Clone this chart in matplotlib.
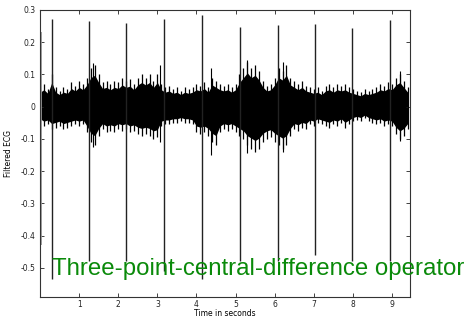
import numpy as np
import matplotlib.pyplot as plt

# R-wave spikes of the filtered ECG (time in s, peak and trough)
beat_t = [0.31, 1.26, 2.21, 3.17, 4.14, 5.11, 6.08, 7.03, 7.98, 8.95]
beat_top = [0.272, 0.266, 0.26, 0.272, 0.284, 0.247, 0.253, 0.256, 0.244, 0.269]
beat_bot = [-0.535, -0.48, -0.48, -0.51, -0.535, -0.48, -0.48, -0.46, -0.48, -0.48]

# noise band envelope, read every 0.1 s from 0.0 to 9.4 s
env_t = np.arange(95) * 0.1
env_hi = [0.06, 0.07, 0.055, 0.10, 0.06, 0.05, 0.06, 0.055, 0.075, 0.065,
          0.08, 0.07, 0.09, 0.12, 0.13, 0.10, 0.075, 0.08, 0.07, 0.08,
          0.075, 0.09, 0.08, 0.085, 0.07, 0.09, 0.10, 0.09, 0.10, 0.08,
          0.10, 0.07, 0.06, 0.065, 0.055, 0.06, 0.05, 0.06, 0.055, 0.06,
          0.07, 0.065, 0.075, 0.06, 0.09, 0.08, 0.07, 0.065, 0.07, 0.06,
          0.07, 0.10, 0.12, 0.14, 0.12, 0.13, 0.11, 0.08, 0.065, 0.07,
          0.09, 0.12, 0.11, 0.13, 0.09, 0.08, 0.07, 0.08, 0.065, 0.06,
          0.055, 0.06, 0.05, 0.065, 0.07, 0.06, 0.07, 0.065, 0.07, 0.06,
          0.055, 0.05, 0.045, 0.055, 0.05, 0.055, 0.06, 0.07, 0.065, 0.075,
          0.07, 0.09, 0.10, 0.08, 0.06]
env_lo = [-0.05, -0.06, -0.055, -0.07, -0.065, -0.06, -0.07, -0.065, -0.06, -0.055,
          -0.06, -0.055, -0.08, -0.11, -0.12, -0.09, -0.07, -0.08, -0.075, -0.08,
          -0.07, -0.075, -0.07, -0.08, -0.075, -0.085, -0.09, -0.085, -0.09, -0.10,
          -0.095, -0.06, -0.055, -0.055, -0.05, -0.05, -0.045, -0.05, -0.05, -0.055,
          -0.08, -0.085, -0.08, -0.09, -0.11, -0.12, -0.08, -0.07, -0.075, -0.07,
          -0.08, -0.09, -0.10, -0.12, -0.13, -0.14, -0.13, -0.11, -0.10, -0.095,
          -0.11, -0.12, -0.13, -0.12, -0.09, -0.07, -0.075, -0.065, -0.07, -0.055,
          -0.06, -0.05, -0.055, -0.06, -0.065, -0.055, -0.06, -0.05, -0.065, -0.055,
          -0.045, -0.04, -0.045, -0.035, -0.045, -0.05, -0.055, -0.05, -0.06, -0.055,
          -0.06, -0.085, -0.10, -0.09, -0.07]

# a few isolated noise spikes sticking out of the band
blip_t = [1.36, 3.06, 4.38, 5.28, 6.22, 9.2]
blip_top = [0.135, 0.13, 0.12, 0.145, 0.14, 0.11]
blip_bot = [-0.125, -0.11, -0.15, -0.145, -0.14, -0.105]

fig = plt.figure(figsize=(4.67, 3.2), dpi=100)
ax = fig.add_axes([0.0857, 0.072, 0.7923, 0.897])

core = 0.75  # solid core of the band relative to the peak envelope
ax.fill_between(env_t, core * np.array(env_lo), core * np.array(env_hi),
                color='black', lw=0)
ax.vlines(env_t, env_lo, env_hi, color='black', lw=0.9)
ax.vlines(blip_t, blip_bot, blip_top, color='black', lw=0.8)
ax.vlines([0.02], [-0.43], [0.23], color='#999999', lw=1.3)
ax.vlines(beat_t, beat_bot, beat_top, color='#222222', lw=1.0)

ax.set_xlim(0, 9.46)
ax.set_ylim(-0.59, 0.3)
ax.set_xticks(range(1, 10))
ax.set_yticks([0.3, 0.2, 0.1, 0, -0.1, -0.2, -0.3, -0.4, -0.5])
ax.set_yticklabels(['0.3', '0.2', '0.1', '0', '-0.1', '-0.2', '-0.3', '-0.4', '-0.5'])
ax.tick_params(direction='in', length=3, width=0.6, labelsize=5.5, pad=3,
               top=True, right=True, colors='#222222')
ax.tick_params(axis='x', pad=2.5)
for s in ax.spines.values():
    s.set_linewidth(0.8)
    s.set_color('#333333')

ax.set_xlabel('Time in seconds', fontsize=5.5, labelpad=0)
ax.set_ylabel('Filtered ECG', fontsize=5.5, labelpad=6)

fig.text(52 / 467, 1 - 275 / 320, 'Three-point-central-difference operator',
         color='#0a8a0a', fontsize=17.3, family='Liberation Sans', va='baseline')

fig.savefig('out.png', dpi=100)
